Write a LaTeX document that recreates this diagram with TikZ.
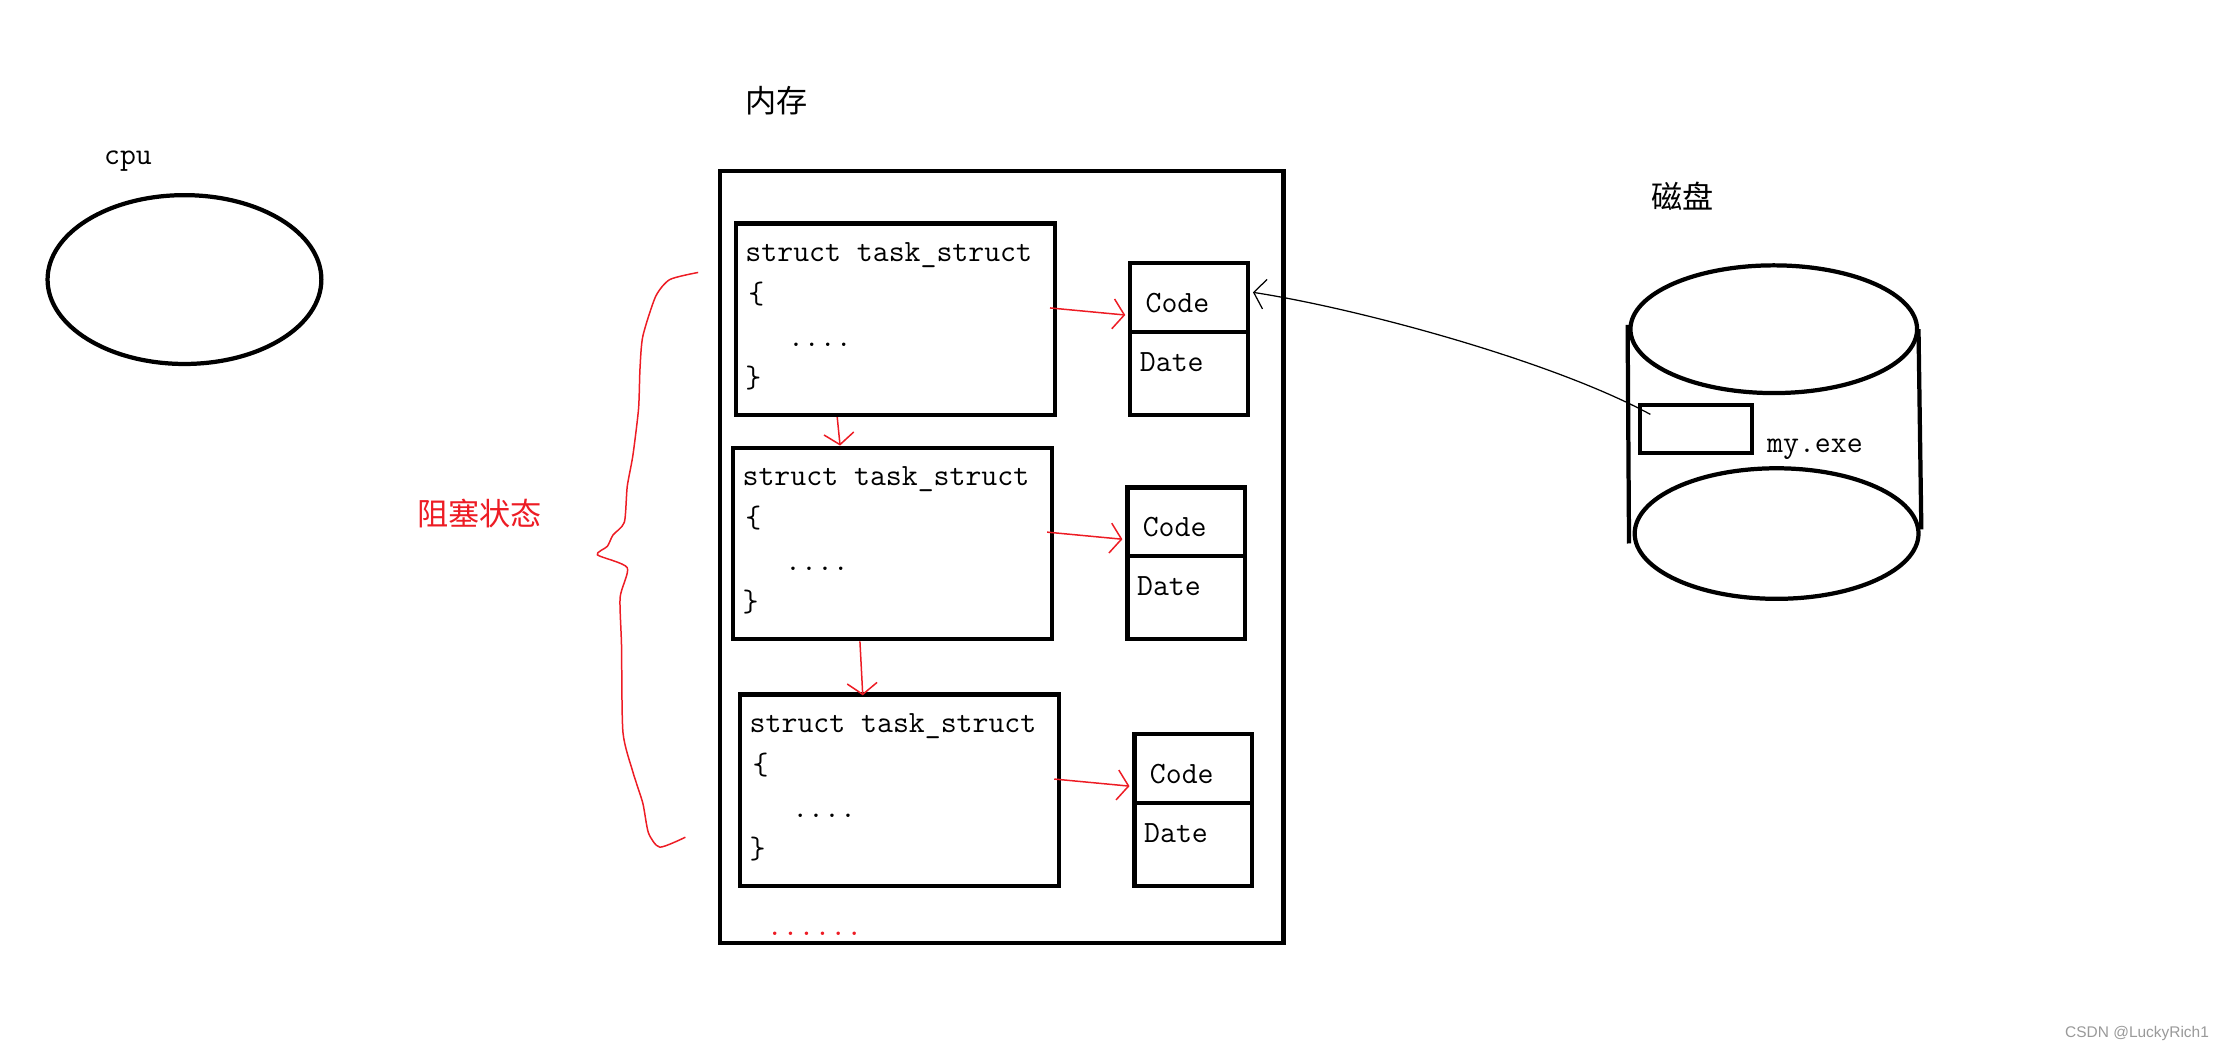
\documentclass[tikz,border=0pt]{standalone}
\usepackage{fontspec}
\newfontfamily\cjk{Noto Sans CJK SC}
\newfontfamily\wmfont{Liberation Sans}
\usetikzlibrary{shapes.geometric,arrows.meta,calc}
\definecolor{paintred}{RGB}{237,28,36}

\begin{document}
\begin{tikzpicture}[x=0.02cm,y=-0.02cm,
        box/.style={draw,line width=1.7pt,inner sep=0pt,anchor=north west},
        mono/.style={anchor=base west,inner sep=0pt,font=\fontsize{12.4}{14}\selectfont\ttfamily},
        cjktext/.style={inner sep=0pt,font=\cjk\fontsize{12.5}{15}\selectfont},
        redarrow/.style={paintred,line width=0.6pt,-{Straight Barb[length=4.5pt,width=12pt]}}]
        \useasboundingbox (0,0) rectangle (1568,741);

        \node[draw,ellipse,line width=1.7pt,minimum width=3.86cm,minimum height=2.38cm,inner sep=0pt] (cpu) at (130,197) {};
        \node[mono] (cpulabel) at (73,116) {cpu};

        \node[cjktext] (memlabel) at (547,71) {内存};
        \node[box,minimum width=7.94cm,minimum height=10.88cm] (mem) at (506,119) {};

        \foreach \i/\x/\y in {1/517/156,2/515/314,3/520/488}{
            \node[box,minimum width=4.5cm,minimum height=2.7cm] (ts\i) at (\x,\y) {};
            \node[mono] (head\i) at (\x+8,\y+28) {struct task\_struct};
            \node[mono] (open\i) at (\x+10,\y+58) {\{};
            \node[mono] (dots\i) at (\x+38,\y+88) {....};
            \node[mono] (close\i) at (\x+8,\y+117) {\}};
            \node[box,minimum width=1.66cm,minimum height=2.14cm] (cd\i) at (\x+278,\y+28) {};
            \draw[line width=1.7pt] ($(cd\i.north west)+(0,50)$) -- ($(cd\i.north east)+(0,50)$);
            \node[mono] (code\i) at (\x+290,\y+64) {Code};
            \node[mono] (date\i) at (\x+286,\y+106) {Date};
            \draw[redarrow] ($(ts\i.north east)+(-5,61)$) -- ($(cd\i.north west)+(-2,38)$);
        }
        \draw[redarrow] ($(ts1.south west)+(73,0)$) -- ($(ts2.north west)+(77,0)$);
        \draw[redarrow] ($(ts2.south west)+(91,0)$) -- ($(ts3.north west)+(88,2)$);
        \node[mono,text=paintred] (more) at (540,659) {......};

        % brace
        \draw[paintred,line width=0.6pt] plot[smooth,tension=0.4] coordinates {(492,192) (472,197) (462,209) (453,237) (451,260) (450,288) (446,321) (442,343) (440,368) (432,377) (428,385) (421,391) (442,400) (437,421) (438,455) (439,516) (446,544) (453,566) (457,587) (465,597) (483,590)};
        \node[cjktext,text=paintred] (blocked) at (338,362) {阻塞状态};

        % disk
        \node[cjktext] (disklabel) at (1186,138) {磁盘};
        \draw[line width=1.7pt] (1250,232) ellipse [x radius=101, y radius=45];
        \draw[line width=1.7pt] (1252,376) ellipse [x radius=100, y radius=46];
        \draw[line width=1.7pt] (1147,229) -- (1148,383);
        \draw[line width=1.7pt] (1352,232) -- (1354,373);
        \node[box,minimum width=1.58cm,minimum height=0.68cm] (exe) at (1154,284) {};
        \node[mono] (exelabel) at (1245,319) {my.exe};

        \coordinate (codetip) at ($(cd1.north east)+(2,22)$);
        \draw[line width=0.5pt,-{Straight Barb[length=4.5pt,width=12pt]}] ($(exe.north west)+(9,8)$) .. controls (1095,255) and (960,218) .. (codetip);

        \node[font=\wmfont\fontsize{6.2}{7}\selectfont,text=black!40,anchor=east,inner sep=0pt] (mark) at (1557,728) {CSDN @LuckyRich1};
\end{tikzpicture}
\end{document}
